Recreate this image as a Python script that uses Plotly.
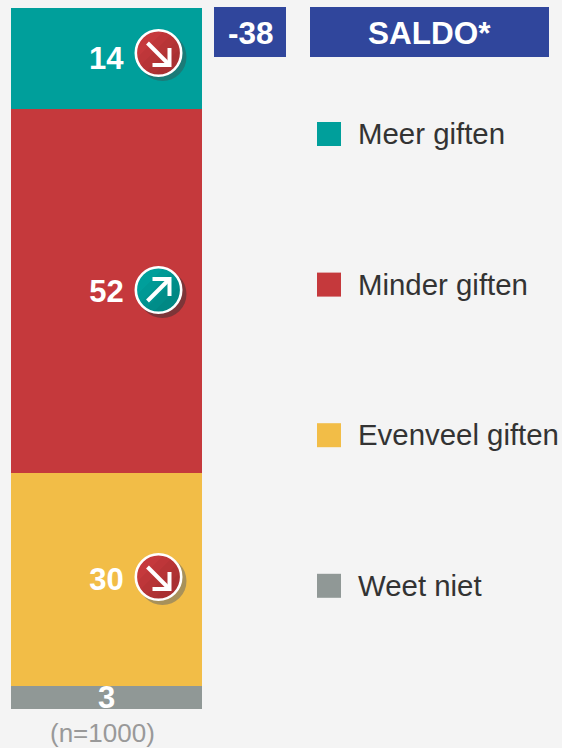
import math
import plotly.graph_objects as go

W, H = 562, 748
BG = "#F4F4F4"
FONT = "Liberation Sans"

categories = ["Meer giften", "Minder giften", "Evenveel giften", "Weet niet"]
shares = [14.4, 51.9, 30.4, 3.3]
labels = ["14", "52", "30", "3"]
colors = ["#009F9B", "#C5393C", "#F2BD47", "#909896"]
directions = ["down", "up", "down", None]
saldo = "-38"
saldo_title = "SALDO*"
base_note = "(n=1000)"

BLUE = "#30469C"


def px(x):
    return x / W


def py(y):
    return 1 - y / H


def rect(x0, y0, x1, y1, color):
    return dict(type="rect", xref="paper", yref="paper", x0=px(x0), x1=px(x1), y0=py(y0), y1=py(y1),
                fillcolor=color, line=dict(width=0), layer="above")


def circle(cx, cy, r, color, lw=0, lc=None):
    return dict(type="circle", xref="paper", yref="paper", x0=px(cx - r), x1=px(cx + r), y0=py(cy - r), y1=py(cy + r),
                fillcolor=color, line=dict(width=lw, color=lc or color), layer="above")


def pixel_path(points, close=False, **kw):
    # shape path in paper coordinates built from pixel points
    d = "M " + " L ".join(f"{px(x):.5f},{py(y):.5f}" for x, y in points) + (" Z" if close else "")
    return dict(type="path", xref="paper", yref="paper", path=d, layer="above", **kw)


def polyline(points, w=4.0):
    return pixel_path(points, line=dict(color="white", width=w), fillcolor="rgba(0,0,0,0)")


def chord(cx, cy, r, offset, opacity):
    # circular segment on the lower-right side, used as a soft diagonal shade
    half = math.acos(offset / r)
    pts = [(cx + r * math.cos(math.pi / 4 + (-half + 2 * half * k / 24)),
            cy + r * math.sin(math.pi / 4 + (-half + 2 * half * k / 24))) for k in range(25)]
    return pixel_path(pts, close=True, fillcolor=f"rgba(0,0,0,{opacity})", line=dict(width=0))


def text(x, y, s, size, color, anchor="left", bold=False):
    return dict(xref="paper", yref="paper", x=px(x), y=py(y), text=f"<b>{s}</b>" if bold else s, showarrow=False,
                xanchor=anchor, yanchor="middle", font=dict(family=FONT, size=size, color=color))


fig = go.Figure()
for c, v, t, col in zip(categories, shares, labels, colors):
    fig.add_bar(x=[0], y=[v], name=c, marker=dict(color=col, line=dict(width=0)), text=[t],
                textposition="inside", insidetextanchor="middle", textangle=0, constraintext="none",
                textfont=dict(family=FONT, size=31, color="white", weight="bold"), showlegend=False,
                cliponaxis=False)

shapes, annotations = [], []
shapes.append(rect(214, 7, 286, 57, BLUE))
shapes.append(rect(310, 7, 549, 57, BLUE))
annotations.append(text(250.5, 33, saldo, 31.5, "white", "center", True))
annotations.append(text(429, 33, saldo_title, 31.5, "white", "center", True))

# legend
for i, (c, col) in enumerate(zip(categories, colors)):
    y = 133.5 + 150.6 * i
    shapes.append(rect(317, 134 + 150.6 * i - 12, 341, 134 + 150.6 * i + 12, col))
    annotations.append(text(355.7, y, c, 29.4, "#333333"))

# badges
badge_y = [53, 290, 577]
shadows = ["#1B7B78", "#7D3538", "#A8915A"]
for d, cy, sh in zip(directions[:3], badge_y, shadows):
    cx = 158.5
    shapes.append(circle(cx + 4, cy + 4, 24, sh))
    shapes.append(circle(cx, cy, 22.7, "#C5393C" if d == "down" else "#009F9B"))
    for off in (-12, -4, 4, 12):
        shapes.append(chord(cx, cy, 22.7, off, 0.035))
    shapes.append(circle(cx, cy, 22.7, "rgba(0,0,0,0)", 2.6, "white"))
    if d == "down":
        shapes.append(polyline([(cx - 11, cy - 10), (cx + 11, cy + 12)]))
        shapes.append(polyline([(cx + 11, cy - 5), (cx + 11, cy + 12), (cx - 6, cy + 12)]))
    else:
        shapes.append(polyline([(cx - 11, cy + 11), (cx + 11, cy - 11)]))
        shapes.append(polyline([(cx - 6, cy - 11), (cx + 11, cy - 11), (cx + 11, cy + 6)]))

annotations.append(text(102.5, 733, base_note, 26, "#999999", "center"))

fig.update_layout(
    width=W, height=H, autosize=False, barmode="stack", bargap=0,
    margin=dict(l=0, r=0, t=0, b=0), paper_bgcolor=BG, plot_bgcolor=BG,
    xaxis=dict(domain=[px(11), px(202)], range=[-0.5, 0.5], visible=False, fixedrange=True),
    yaxis=dict(domain=[py(709), py(8)], range=[100, 0], visible=False, fixedrange=True),
    shapes=shapes, annotations=annotations,
)
fig.write_html("out.html", config=dict(displayModeBar=False),
               post_script="document.body.style.margin='0';document.body.style.overflow='hidden';document.body.style.background='#F4F4F4';")
